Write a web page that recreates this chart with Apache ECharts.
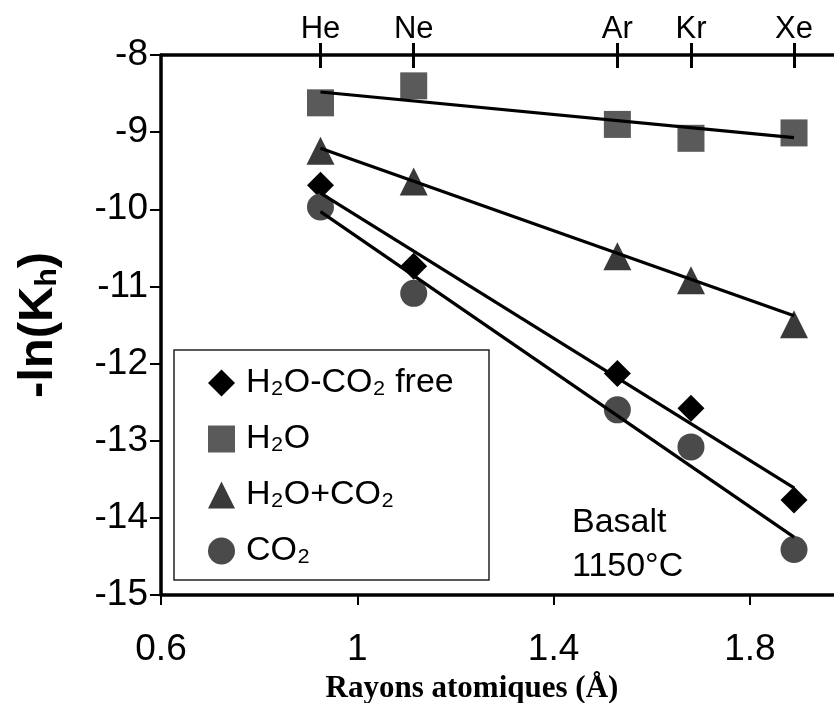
<!DOCTYPE html>
<html>
<head>
<meta charset="utf-8">
<script src="https://cdn.jsdelivr.net/npm/echarts@6/dist/echarts.min.js"></script>
<style>
html,body{margin:0;padding:0;background:#fff;}
#c{width:834px;height:703px;}
</style>
</head>
<body>
<div id="c"></div>
<script>
// ---- data ----
const elements = ['He', 'Ne', 'Ar', 'Kr', 'Xe'];
const radii = [0.925, 1.115, 1.53, 1.68, 1.89];          // atomic radius (Å)
const freeVals = [-9.69, -10.74, -12.13, -12.58, -13.77]; // H2O-CO2 free
const h2oVals  = [-8.62, -8.40, -8.90, -9.08, -9.01];     // H2O
const mixVals  = [-9.24, -9.64, -10.61, -10.92, -11.49];  // H2O+CO2
const co2Vals  = [-9.97, -11.09, -12.60, -13.08, -14.41]; // CO2
// fitted lines, read at the He and Xe radii
const fitX    = [0.925, 1.89];
const freeFit = [-9.79, -13.61];
const h2oFit  = [-8.48, -9.07];
const mixFit  = [-9.21, -11.38];
const co2Fit  = [-10.03, -14.25];
const seriesNames = ['H₂O-CO₂ free', 'H₂O', 'H₂O+CO₂', 'CO₂'];

const pts = (xs, ys) => xs.map((x, i) => [x, ys[i]]);
const SANS = "'Liberation Sans', Arial, Helvetica, 'DejaVu Sans', sans-serif";
const chart = echarts.init(document.getElementById('c'), null, {renderer: 'canvas'});

function scatter(name, vals, symbol, size, color) {
  return {
    name: name, type: 'scatter', data: pts(radii, vals),
    symbol: symbol, symbolSize: size, z: 2,
    itemStyle: {color: color, opacity: 1}
  };
}
function fit(vals) {
  return {
    type: 'line', data: pts(fitX, vals), showSymbol: false, symbol: 'none', z: 3,
    lineStyle: {color: '#000', width: 3.2}, silent: true
  };
}

chart.setOption({
  animation: false,
  backgroundColor: '#fff',
  grid: {left: 161, top: 55, width: 687, height: 540, outerBoundsMode: 'none', containLabel: false},
  xAxis: [
    {
      type: 'value', position: 'bottom', min: 0.6, max: 2.0, interval: 0.4,
      axisLine: {show: true, onZero: false, lineStyle: {color: '#000', width: 3.5}},
      axisTick: {show: true, inside: false, length: 10, lineStyle: {color: '#000', width: 2}},
      axisLabel: {color: '#000', fontSize: 37, fontFamily: SANS, margin: 36, showMaxLabel: false,
        formatter: v => (v > 1.95 ? '' : (Math.round(v * 10) / 10).toString())},
      splitLine: {show: false}
    },
    {
      type: 'value', position: 'top', min: 0.6, max: 2.0,
      axisLine: {show: true, onZero: false, lineStyle: {color: '#000', width: 3.5}},
      axisTick: {show: true, inside: false, length: 12, customValues: radii, lineStyle: {color: '#000', width: 3}},
      axisLabel: {show: true, customValues: radii, color: '#000', fontSize: 31, fontFamily: SANS, margin: 10,
        formatter: v => { let k = 0; radii.forEach((r, i) => { if (Math.abs(r - v) < Math.abs(radii[k] - v)) k = i; }); return elements[k]; }},
      splitLine: {show: false}
    },
    {
      type: 'value', position: 'top', min: 0.6, max: 2.0,
      axisLine: {show: false},
      axisTick: {show: true, inside: true, length: 13, customValues: radii, lineStyle: {color: '#000', width: 3}},
      axisLabel: {show: false},
      splitLine: {show: false}
    }
  ],
  yAxis: {
    type: 'value', min: -15, max: -8, interval: 1,
    name: '-ln(K{h|h})', nameLocation: 'middle', nameGap: 98,
    nameTextStyle: {color: '#000', fontSize: 49, fontWeight: 'bold', fontFamily: SANS,
      rich: {h: {fontSize: 30, fontWeight: 'bold', fontFamily: SANS, verticalAlign: 'bottom', lineHeight: 14}}},
    axisLine: {show: true, onZero: false, lineStyle: {color: '#000', width: 3.5}},
    axisTick: {show: true, inside: false, length: 11, lineStyle: {color: '#000', width: 2}},
    axisLabel: {color: '#000', fontSize: 37, fontFamily: SANS, margin: 13},
    splitLine: {show: false}
  },
  legend: {
    orient: 'vertical', left: 203, top: 361,
    data: seriesNames,
    itemWidth: 27, itemHeight: 27, itemGap: 22,
    textStyle: {color: '#000', fontSize: 34, fontFamily: SANS, lineHeight: 32, padding: [0, 0, 0, 6]},
    selectedMode: false
  },
  graphic: [
    {type: 'rect', shape: {x: 174, y: 350, width: 315, height: 230}, z: 1,
      style: {fill: 'rgba(255,255,255,0)', stroke: '#222', lineWidth: 1.5}},
    {type: 'text', x: 572, y: 523, z: 5,
      style: {text: 'Basalt', fill: '#000', font: "34px 'Liberation Sans', Arial, sans-serif", textVerticalAlign: 'middle'}},
    {type: 'text', x: 572, y: 567, z: 5,
      style: {text: '1150°C', fill: '#000', font: "34px 'Liberation Sans', Arial, sans-serif", textVerticalAlign: 'middle'}},
    {type: 'text', x: 472, y: 689, z: 5,
      style: {text: 'Rayons atomiques (Å)', fill: '#000', font: "bold 31px 'Liberation Serif', 'Times New Roman', serif",
        textAlign: 'center', textVerticalAlign: 'middle'}}
  ],
  series: [
    scatter(seriesNames[0], freeVals, 'diamond', 27, '#000'),
    scatter(seriesNames[1], h2oVals, 'rect', 27, '#5a5a5a'),
    scatter(seriesNames[2], mixVals, 'triangle', 28, '#3a3a3a'),
    scatter(seriesNames[3], co2Vals, 'circle', 27, '#4a4a4a'),
    fit(freeFit), fit(h2oFit), fit(mixFit), fit(co2Fit)
  ]
});
</script>
</body>
</html>
